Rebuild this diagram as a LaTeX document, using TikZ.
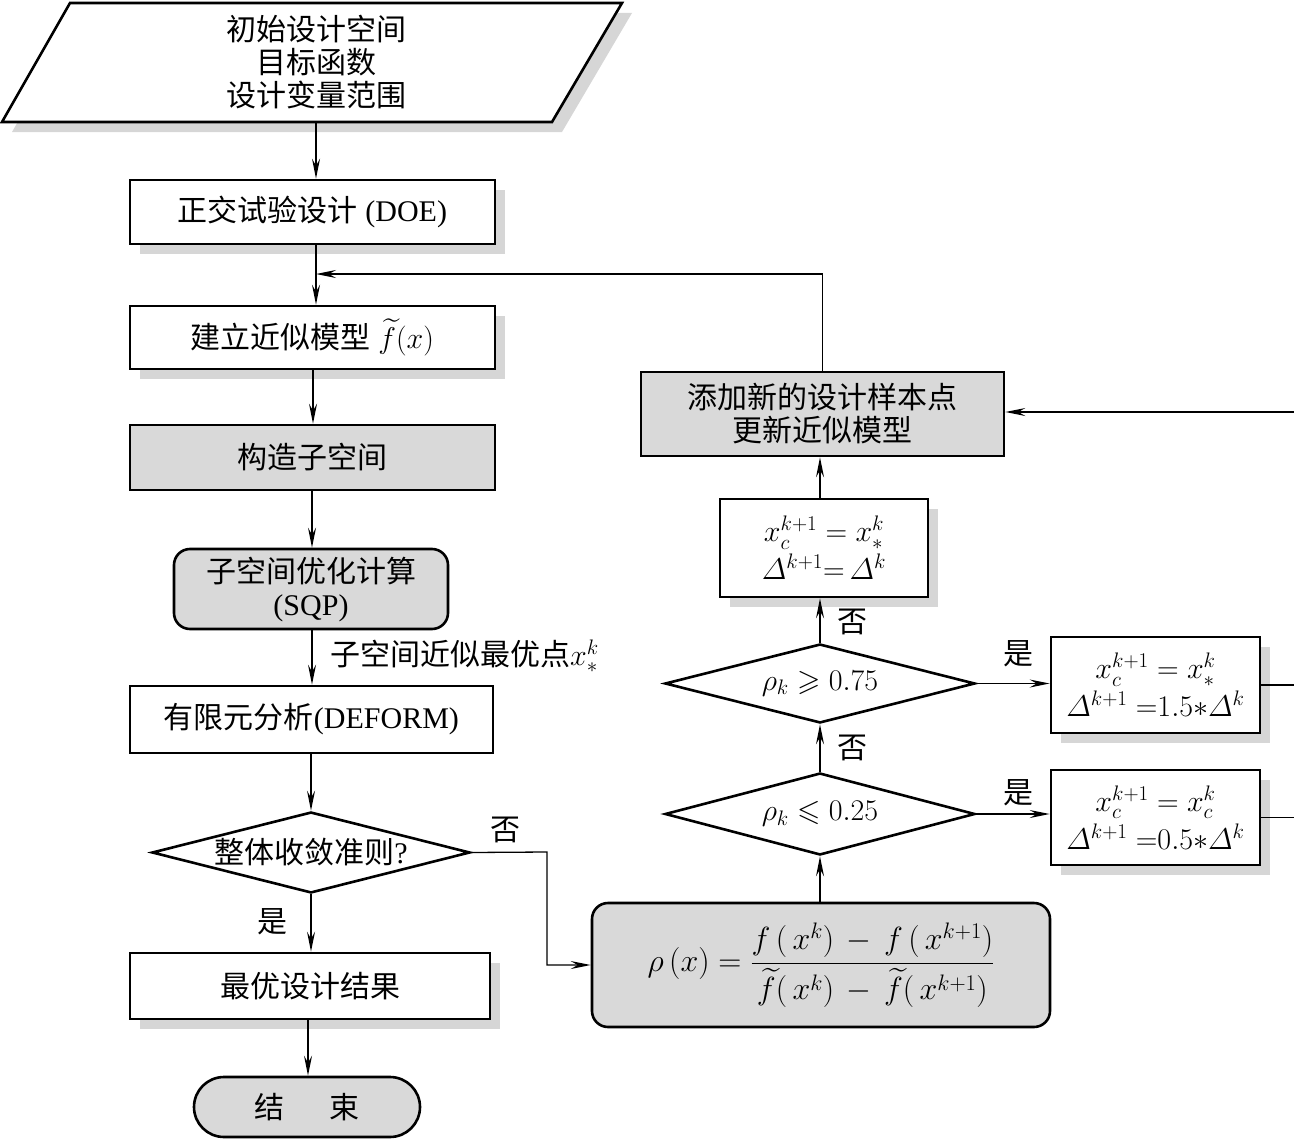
\RequirePackage{fix-cm}
\documentclass[tikz,border=0pt]{standalone}
\usepackage{amsmath,amssymb}
\usepackage{fontspec}
\setmainfont{Liberation Serif}
\newfontfamily\cjk{Noto Sans CJK SC}
\newcommand\zh[1]{{\cjk #1}}
\usetikzlibrary{shapes.geometric,arrows.meta,shadows}
\tikzset{
  box/.style={draw, line width=2.6pt, fill=white, inner sep=0pt, align=center},
  shad/.style={drop shadow={shadow xshift=10pt, shadow yshift=-10pt, fill=black!16, opacity=1}},
  grayfill/.style={fill=black!15},
  dia/.style={diamond, draw, line width=2.6pt, fill=white, inner sep=0pt, align=center, aspect=3.9},
  arr/.style={-{Stealth[length=20pt,width=8pt,inset=7pt]}, line width=1.3pt},
  ln/.style={line width=1.3pt},
  lab/.style={inner sep=0pt}
}
\begin{document}
\begin{tikzpicture}[x=1pt,y=-1pt, font=\fontsize{30}{33}\selectfont]
\useasboundingbox (0,0) rectangle (1294,1140);
% input parallelogram
\draw[line width=2.6pt, fill=white, shad] (2,122) -- (70,3) -- (622,3) -- (552,122) -- cycle;
\node[lab, align=center] (in) at (316,62) {\zh{初始设计空间}\\\zh{目标函数}\\\zh{设计变量范围}};
\coordinate (inb) at (316,122);
% left column
\node[box, shad, minimum width=365pt, minimum height=64pt] (doe) at (312.5,212) {\zh{正交试验设计} (DOE)};
\node[box, shad, minimum width=365pt, minimum height=63pt] (est) at (312.5,337.5) {\zh{建立近似模型} $\widetilde{f}(x)$};
\node[box, grayfill, minimum width=365pt, minimum height=65pt] (sub) at (312.5,457.5) {\zh{构造子空间}};
\node[box, grayfill, rounded corners=16pt, minimum width=274pt, minimum height=80pt] (sqp) at (311,589) {\zh{子空间优化计算}\\(SQP)};
\node[box, minimum width=363pt, minimum height=67pt] (fea) at (311.5,719.5) {\zh{有限元分析}(DEFORM)};
\node[dia, minimum width=318pt, minimum height=81pt] (conv) at (311,852.5) {\zh{整体收敛准则}?};
\node[box, shad, minimum width=360pt, minimum height=66pt] (opt) at (310,986) {\zh{最优设计结果}};
\node[box, grayfill, rounded corners=30pt, minimum width=226pt, minimum height=60pt] (end) at (307,1107) {\zh{结}\hspace{1.5em}\zh{束}};
% right part
\node[box, grayfill, rounded corners=16pt, minimum width=458pt, minimum height=124pt, font=\fontsize{32}{36}\selectfont] (rho) at (821,965)
  {$\displaystyle \rho\,(x)=\frac{f\,(\,x^{k})\,-\,f\,(\,x^{k+1})}{\widetilde{f}(\,x^{k})\,-\,\widetilde{f}(\,x^{k+1})}$};
\node[dia, minimum width=310pt, minimum height=82pt] (d2) at (820,814) {$\rho_k\leqslant 0.25$};
\node[dia, minimum width=310pt, minimum height=79pt] (d1) at (820,683.5) {$\rho_k\geqslant 0.75$};
\node[box, shad, minimum width=208pt, minimum height=98pt] (xc) at (824,548) {$x_c^{k+1}=x_*^k$\\[5pt]$\varDelta^{k+1}{=}\,\varDelta^k$};
\node[box, grayfill, minimum width=363pt, minimum height=84pt] (add) at (822.5,414) {\zh{添加新的设计样本点}\\\zh{更新近似模型}};
\node[box, shad, minimum width=209pt, minimum height=96pt] (b15) at (1155.5,685) {$x_c^{k+1}=x_*^k$\\[5pt]$\varDelta^{k+1}\;{=}1.5{*}\varDelta^k$};
\node[box, shad, minimum width=209pt, minimum height=95pt] (b05) at (1155.5,817.5) {$x_c^{k+1}=x_c^k$\\[5pt]$\varDelta^{k+1}\;{=}0.5{*}\varDelta^k$};
% coordinates
\coordinate (join) at (316,274);
\coordinate (rin) at (1294,412);
\coordinate (bend) at (547,852);
% connectors left
\draw[arr] (inb) -- (inb |- doe.north);
\draw[ln] (doe.south -| join) -- (join);
\draw[arr] (join) -- (join |- est.north);
\draw[arr] (est.south -| 313,0) -- (313,0 |- sub.north);
\draw[arr] (sub.south -| 312,0) -- (312,0 |- sqp.north);
\draw[arr] (sqp.south -| 312,0) -- (312,0 |- fea.north);
\draw[arr] (conv.north |- fea.south) -- (conv.north);
\draw[arr] (conv.south) -- (conv.south |- opt.north);
\draw[arr] (opt.south -| 308,0) -- (308,0 |- end.north);
\draw[arr] (conv.east) -- (bend) |- (rho.west);
% connectors right
\draw[arr] (rho.north -| d2.south) -- (d2.south);
\draw[arr] (d2.north) -- (d1.south);
\draw[arr] (d1.north) -- (d1.north |- xc.south);
\draw[arr] (xc.north -| d1.north) -- (d1.north |- add.south);
\draw[arr] (add.north) |- (join);
\draw[arr] (rin) -- (rin -| add.east);
\draw[arr] (d1.east) -- (d1.east -| b15.west);
\draw[arr] (d2.east) -- (d2.east -| b05.west);
\draw[ln] (b15.east) -- (b15.east -| rin);
\draw[ln] (b05.east) -- (b05.east -| rin);
% labels
\node[lab, anchor=west] (lsub) at (330,656) {\zh{子空间近似最优点}$x_*^k$};
\node[lab] (lno1) at (505,830) {\zh{否}};
\node[lab] (lyes1) at (272,922) {\zh{是}};
\node[lab] (lno2) at (852,622) {\zh{否}};
\node[lab] (lno3) at (852,748) {\zh{否}};
\node[lab] (lyes2) at (1018,654) {\zh{是}};
\node[lab] (lyes3) at (1018,793) {\zh{是}};
\end{tikzpicture}
\end{document}
